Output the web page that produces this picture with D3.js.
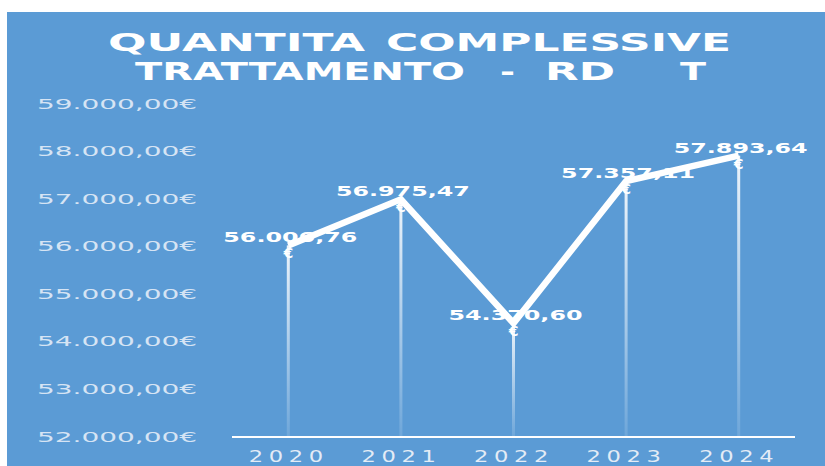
<!DOCTYPE html>
<html>
<head>
<meta charset="utf-8">
<script src="https://cdn.jsdelivr.net/npm/d3@7"></script>
<style>
  html, body { margin: 0; padding: 0; background: #ffffff; }
  svg { display: block; }
</style>
</head>
<body>
<svg id="chart" width="825" height="466"></svg>
<script>
// Yearly totals (EUR)
const years = ["2020", "2021", "2022", "2023", "2024"];
const totals = [56006.76, 56975.47, 54370.60, 57357.11, 57893.64];
const valueLabels = ["56.006,76", "56.975,47", "54.370,60", "57.357,11", "57.893,64"];
const yTicks = [52000, 53000, 54000, 55000, 56000, 57000, 58000, 59000];
const titleLines = [["QUANTITA", "COMPLESSIVE"], ["TRATTAMENTO", "-", "RD", "T"]];

const W = 825, H = 466;
const svg = d3.select("#chart");

// Blue panel
svg.append("rect")
  .attr("x", 7).attr("y", 12)
  .attr("width", W - 7).attr("height", H - 12)
  .attr("fill", "#5B9BD5");

// Title: each word placed on its own slot (start x, width)
const titleSlots = [
  [[108, 257], [386, 345]],
  [[135, 330], [500, 15], [545, 70], [680, 26]]
];
const titleG = svg.append("g")
  .attr("font-family", "'DejaVu Sans', sans-serif")
  .attr("font-weight", "bold")
  .attr("font-size", 24)
  .attr("fill", "#ffffff");
titleLines.forEach((words, li) => {
  titleG.append("g").selectAll("text")
    .data(words)
    .join("text")
    .attr("x", (d, i) => titleSlots[li][i][0])
    .attr("y", 51 + li * 29)
    .attr("textLength", (d, i) => titleSlots[li][i][1])
    .attr("lengthAdjust", "spacingAndGlyphs")
    .text(d => d);
});

// Scales
const x = d3.scalePoint().domain(years).range([232, 795]).padding(0.5);
const y = d3.scaleLinear().domain([52000, 59000]).range([436, 103]);

const fmt = d3.formatLocale({ decimal: ",", thousands: ".", grouping: [3], currency: ["", "€"] }).format("$,.2f");

// Y axis labels (no line)
const yAxis = d3.axisLeft(y).tickValues(yTicks).tickFormat(fmt).tickSize(0).tickPadding(0);
const yg = svg.append("g").attr("transform", "translate(197,0)").call(yAxis);
yg.select(".domain").remove();
yg.selectAll("text")
  .attr("font-family", "'DejaVu Sans', sans-serif")
  .attr("font-size", 14)
  .attr("fill", "#D6E4F4")
  .attr("dy", "0.36em")
  .attr("textLength", 160)
  .attr("lengthAdjust", "spacingAndGlyphs");

// Drop-line gradient
const defs = svg.append("defs");
const grad = defs.append("linearGradient")
  .attr("id", "dropGrad").attr("x1", 0).attr("y1", 0).attr("x2", 0).attr("y2", 1);
grad.append("stop").attr("offset", "0%").attr("stop-color", "#ffffff").attr("stop-opacity", 0.9);
grad.append("stop").attr("offset", "100%").attr("stop-color", "#ffffff").attr("stop-opacity", 0.12);

svg.append("g").selectAll("rect")
  .data(years)
  .join("rect")
  .attr("x", d => x(d) - 1.5)
  .attr("y", (d, i) => y(totals[i]))
  .attr("width", 3)
  .attr("height", (d, i) => y(52000) - y(totals[i]))
  .attr("fill", "url(#dropGrad)");

// X axis
const xAxis = d3.axisBottom(x).tickSize(0).tickPadding(0);
const xg = svg.append("g").attr("transform", `translate(0,${y(52000) + 1})`).call(xAxis);
xg.select(".domain").attr("d", "M232,0H795").attr("stroke", "#ffffff").attr("stroke-width", 2);
xg.selectAll("text")
  .attr("y", 25)
  .attr("dy", 0)
  .attr("font-family", "'DejaVu Sans', sans-serif")
  .attr("font-size", 16)
  .attr("letter-spacing", 4)
  .attr("fill", "#E4ECF6")
  .attr("textLength", 80)
  .attr("lengthAdjust", "spacingAndGlyphs");

// Line
const line = d3.line().x((d, i) => x(years[i])).y(d => y(d));
svg.append("path")
  .datum(totals)
  .attr("d", line)
  .attr("fill", "none")
  .attr("stroke", "#ffffff")
  .attr("stroke-width", 6.5)
  .attr("stroke-linejoin", "miter");

// Value labels
const lbl = svg.append("g")
  .attr("font-family", "'DejaVu Sans', sans-serif")
  .attr("font-weight", "bold")
  .attr("fill", "#ffffff")
  .attr("text-anchor", "middle");
lbl.selectAll("text.val")
  .data(years)
  .join("text")
  .attr("class", "val")
  .attr("x", d => x(d) + 2)
  .attr("y", (d, i) => y(totals[i]) - 3)
  .attr("font-size", 14)
  .attr("textLength", 134)
  .attr("lengthAdjust", "spacingAndGlyphs")
  .text((d, i) => valueLabels[i]);
lbl.selectAll("text.cur")
  .data(years)
  .join("text")
  .attr("class", "cur")
  .attr("x", d => x(d))
  .attr("y", (d, i) => y(totals[i]) + 13)
  .attr("font-size", 14)
  .text("€");
</script>
</body>
</html>
